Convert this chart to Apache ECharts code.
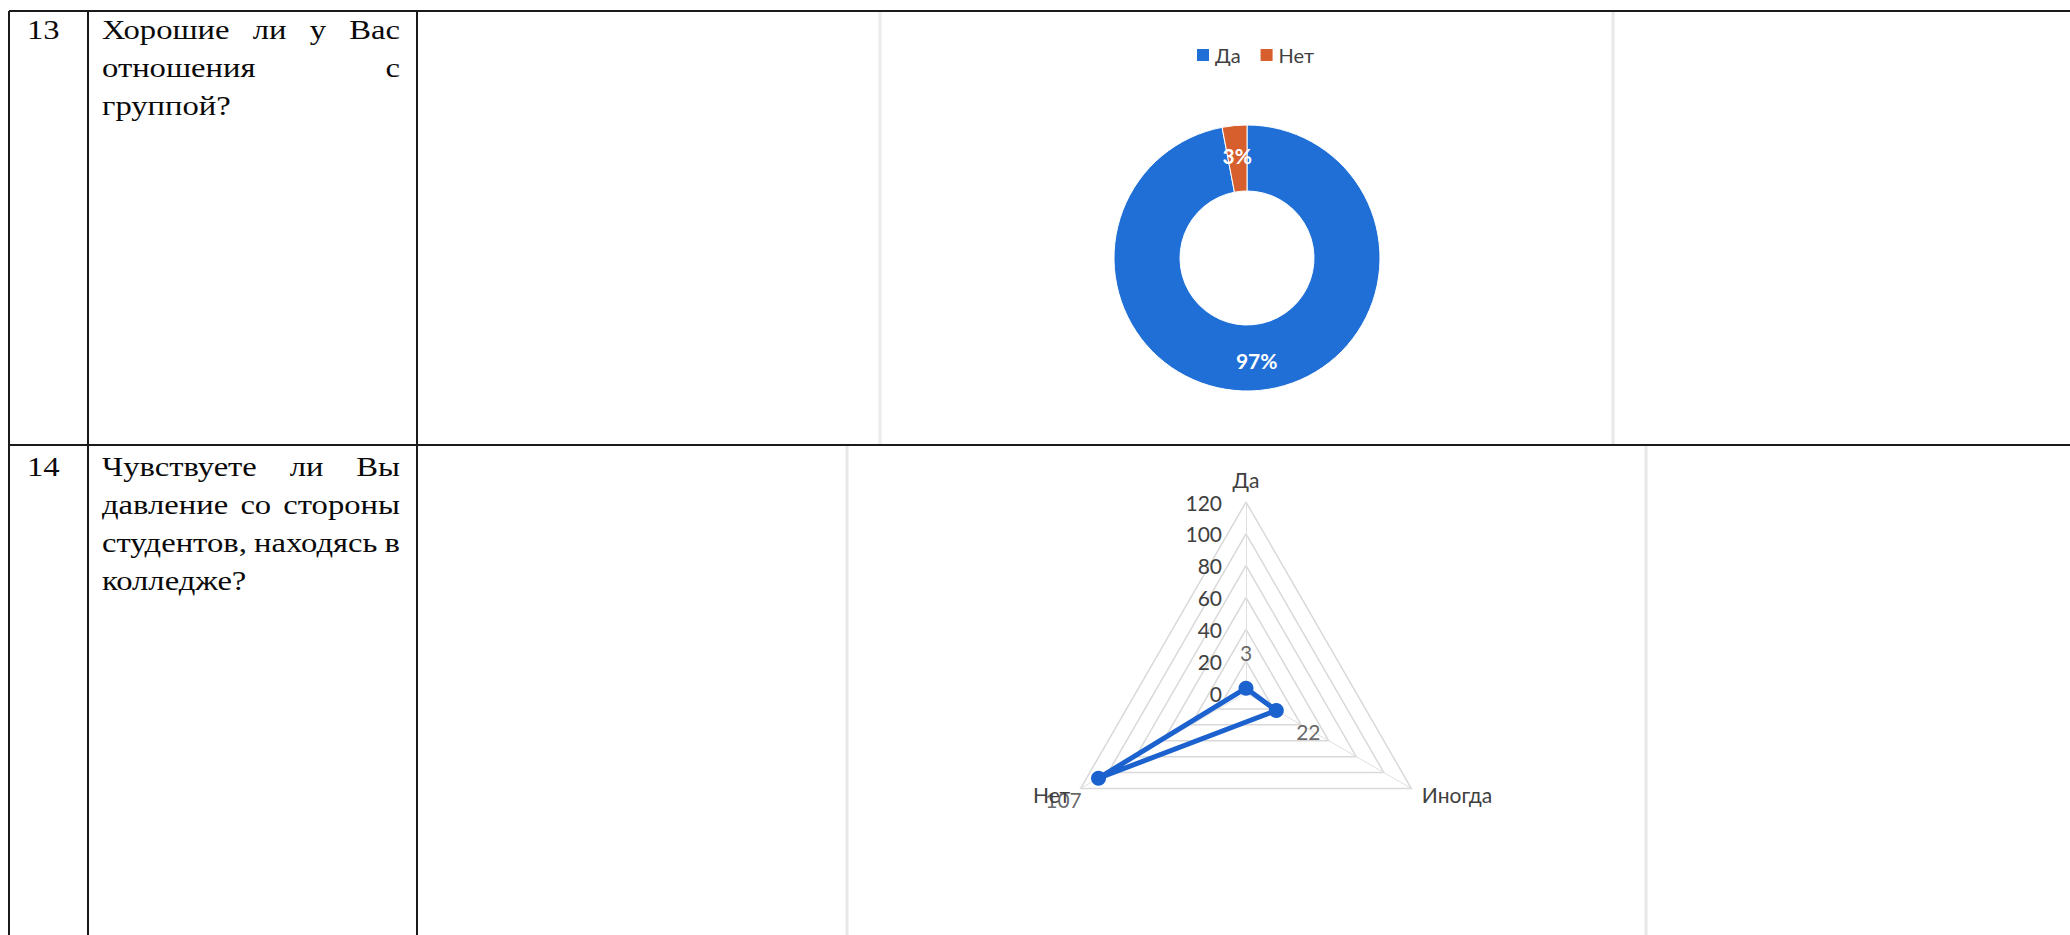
<!DOCTYPE html>
<html><head><meta charset="utf-8">
<script src="https://cdn.jsdelivr.net/npm/echarts@6/dist/echarts.min.js"></script>
<style>html,body{margin:0;padding:0;background:#fff}#c{width:2070px;height:935px}</style>
</head><body><div id="c"></div>
<script>
// ---- data ----
const pieCategories = ['Да', 'Нет'];
const pieValues = [97, 3];
const radarCategories = ['Да', 'Нет', 'Иногда'];
const radarValues = [3, 107, 22];
const radarTicks = [0, 20, 40, 60, 80, 100, 120];
const rowNumbers = ['13', '14'];
const rowQuestions = [
  [['Хорошие', 'ли', 'у', 'Вас'], ['отношения', 'с'], ['группой?']],
  [['Чувствуете', 'ли', 'Вы'], ['давление', 'со', 'стороны'], ['студентов,', 'находясь', 'в'], ['колледже?']]
];

// ---- styling / layout ----
const SERIF = '"Liberation Serif","Times New Roman",serif';
const SANS = 'Lato,"Open Sans","Noto Sans",sans-serif';
const FS = 27;
const mctx = document.createElement('canvas').getContext('2d');
mctx.font = FS + 'px ' + SERIF;
const SX = 155 / mctx.measureText('Чувствуете').width; // horizontal stretch of the scan
const measure = w => mctx.measureText(w).width * SX;

const rowTops = [38, 475];      // first baseline of each row
const LINE_H = 38;
const TXT_L = 102, TXT_R = 400, NUM_X = 27;
const graphics = [];
const lineEl = (x1, y1, x2, y2, color, w) => ({type: 'line', silent: true, shape: {x1, y1, x2, y2}, style: {stroke: color, lineWidth: w}});
// faint chart-picture frames
graphics.push(lineEl(880, 12, 880, 444, '#ececec', 3));
graphics.push(lineEl(1613, 12, 1613, 444, '#e8e8e8', 3));
graphics.push(lineEl(847, 446, 847, 935, '#e8e8e8', 3));
graphics.push(lineEl(1646, 446, 1646, 935, '#e8e8e8', 3));
// table rules
graphics.push(lineEl(9, 11, 2070, 11, '#1a1a1a', 2));
graphics.push(lineEl(9, 445, 2070, 445, '#1a1a1a', 2));
[9, 88, 417].forEach(x => graphics.push(lineEl(x, 11, x, 935, '#1a1a1a', 2)));

const textEl = (txt, x, baseline) => ({
  type: 'text', silent: true, x: x, y: baseline - 0.33 * FS, scaleX: SX,
  style: {text: txt, font: FS + 'px ' + SERIF, fill: '#0a0a0a', textAlign: 'left', textVerticalAlign: 'middle', verticalAlign: 'middle'}
});
rowQuestions.forEach((lines, r) => {
  graphics.push(textEl(rowNumbers[r], NUM_X, rowTops[r]));
  lines.forEach((words, li) => {
    const base = rowTops[r] + li * LINE_H;
    const last = li === lines.length - 1;
    if (words.length === 1 || last) {
      let x = TXT_L;
      words.forEach(w => { graphics.push(textEl(w, x, base)); x += measure(w) + measure(' '); });
    } else {
      const total = words.reduce((s, w) => s + measure(w), 0);
      const gap = (TXT_R - TXT_L - total) / (words.length - 1);
      let x = TXT_L;
      words.forEach(w => { graphics.push(textEl(w, x, base)); x += measure(w) + gap; });
    }
  });
});

const labelOffsets = [[0, -36], [-35, 21], [32, 21]];
const BLUE = '#1f6fd6', ORANGE = '#d65f2d', LINEBLUE = '#1c62cf';

const chart = echarts.init(document.getElementById('c'), null, {renderer: 'svg'});
chart.setOption({
  animation: false,
  color: [BLUE, ORANGE],
  legend: {
    data: pieCategories, left: 1190, top: 40, icon: 'rect', itemWidth: 14, itemHeight: 14, itemGap: 18,
    textStyle: {fontSize: 20, color: '#404040', fontFamily: SANS}
  },
  radar: {
    center: [1246, 693], radius: 191, startAngle: 90, shape: 'polygon',
    splitNumber: radarTicks.length - 1,
    indicator: radarCategories.map((c, i) => {
      const ind = {name: c, min: radarTicks[0], max: radarTicks[radarTicks.length - 1]};
      if (i > 0) ind.axisLabel = {show: false};
      return ind;
    }),
    nameGap: 12,
    axisName: {color: '#404040', fontSize: 21, fontFamily: SANS},
    splitLine: {lineStyle: {color: '#d9d9d9', width: 1.5}},
    splitArea: {show: false},
    axisLine: {lineStyle: {color: '#e0e0e0', width: 1}},
    axisTick: {show: false},
    axisLabel: {show: true, color: '#404040', fontSize: 21, fontFamily: SANS, margin: 24}
  },
  polar: {center: [1246, 693], radius: 191},
  angleAxis: {type: 'category', data: radarCategories, startAngle: 90, clockwise: false, boundaryGap: false,
    axisLine: {show: false}, axisTick: {show: false}, axisLabel: {show: false}, splitLine: {show: false}},
  radiusAxis: {min: radarTicks[0], max: radarTicks[radarTicks.length - 1],
    axisLine: {show: false}, axisTick: {show: false}, axisLabel: {show: false}, splitLine: {show: false}},
  series: [
    {
      type: 'pie', center: [1247, 258], radius: [67, 133], startAngle: 90, clockwise: true,
      avoidLabelOverlap: false, silent: true,
      data: pieCategories.map((n, i) => ({name: n, value: pieValues[i]})),
      itemStyle: {borderColor: '#fff', borderWidth: 1},
      label: {show: true, position: 'inside', color: '#fff', fontWeight: 'bold', fontSize: 21, fontFamily: SANS,
        formatter: p => Math.round(p.percent) + '%'},
      labelLine: {show: false}
    },
    {
      type: 'radar', symbol: 'circle', symbolSize: 15, silent: true, z: 3,
      lineStyle: {color: LINEBLUE, width: 5},
      itemStyle: {color: LINEBLUE},
      data: [{value: radarValues}]
    },
    {
      type: 'scatter', coordinateSystem: 'polar', symbolSize: 1, silent: true, z: 4,
      itemStyle: {color: 'rgba(0,0,0,0)'},
      data: radarValues.map((v, i) => ({value: [v, radarCategories[i]], label: {offset: labelOffsets[i]}})),
      label: {show: true, position: 'inside', color: '#404040', fontSize: 21, fontFamily: SANS,
        formatter: p => String(p.value[0])}
    }
  ],
  graphic: graphics
});
</script>
</body></html>
